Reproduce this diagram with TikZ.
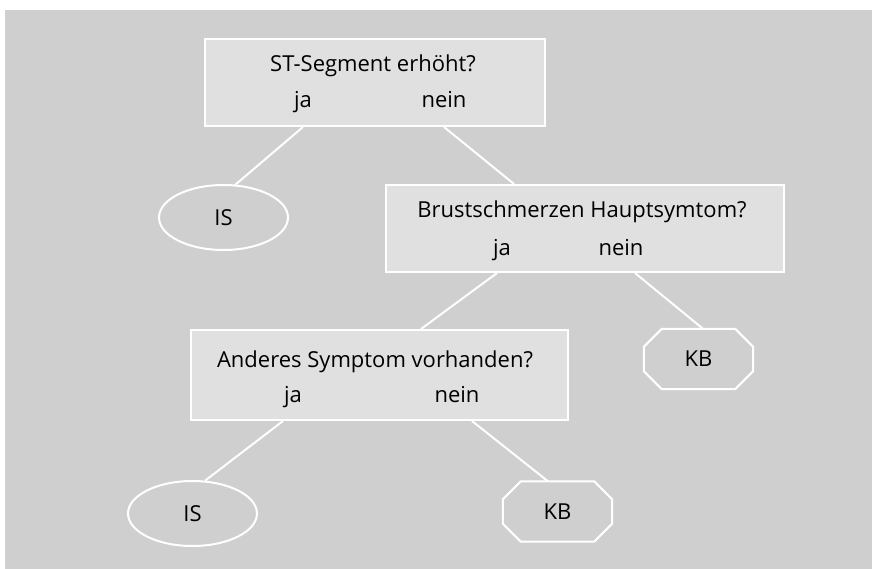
\documentclass[tikz,border=0pt]{standalone}
\usepackage{fontspec}
\setmainfont{Open Sans}
\usepackage{xcolor}
\usetikzlibrary{shapes.geometric,calc}
\definecolor{bggray}{HTML}{CFCFCF}
\definecolor{boxgray}{HTML}{E0E0E0}

\begin{document}
\begin{tikzpicture}[x=1pt,y=-1pt,
    every node/.style={font=\fontsize{22}{26}\selectfont},
    frage/.style={rectangle,draw=white,line width=2pt,fill=boxgray},
    antwort/.style={anchor=base},
    isnode/.style={ellipse,draw=white,line width=2pt,minimum width=129pt,minimum height=65pt},
    kbnode/.style={rectangle,minimum width=109pt,minimum height=60pt},
    ast/.style={draw=white,line width=2pt}]
        \useasboundingbox (0,0) rectangle (872,569);
        % Draw the background
        \fill[white] (0,0) rectangle (872,569);
        \fill[bggray] (5,10) rectangle (872,569);

        % Draw the question boxes
        \node[frage,minimum width=340pt,minimum height=87pt] (q1) at (375,82.5) {};
        \node[frage,minimum width=398pt,minimum height=87pt] (q2) at (585,228.5) {};
        \node[frage,minimum width=377pt,minimum height=90pt] (q3) at (379.5,375) {};

        % Questions and answers
        \node[antwort] (t1) at (373,72) {ST-Segment erhöht?};
        \node[antwort] (ja1) at (303,108) {ja};
        \node[antwort] (nein1) at (444,108) {nein};
        \node[antwort] (t2) at (582,218) {Brustschmerzen Hauptsymtom?};
        \node[antwort] (ja2) at (502,255) {ja};
        \node[antwort] (nein2) at (621,255) {nein};
        \node[antwort] (t3) at (375,367) {Anderes Symptom vorhanden?};
        \node[antwort] (ja3) at (293,402) {ja};
        \node[antwort] (nein3) at (457,402) {nein};

        % Draw the results
        \node[isnode] (is1) at (223.5,217.5) {IS};
        \node[kbnode] (kb1) at (698.5,359) {KB};
        \node[isnode] (is2) at (192.5,513.5) {IS};
        \node[kbnode] (kb2) at (557.5,511.5) {KB};

        % Octagon outlines of the KB nodes
        \foreach \k in {kb1,kb2}
            \draw[ast,line join=miter] ($(\k.north west)+(18,0)$) -- ($(\k.north east)+(-18,0)$)
                -- ($(\k.north east)+(0,18)$) -- ($(\k.south east)+(0,-18)$)
                -- ($(\k.south east)+(-18,0)$) -- ($(\k.south west)+(18,0)$)
                -- ($(\k.south west)+(0,-18)$) -- ($(\k.north west)+(0,18)$) -- cycle;

        % Draw the branches
        \draw[ast] (q1.south -| ja1) -- (is1.70);
        \draw[ast] (q1.south -| nein1) -- ($(q2.north west)+(129,0)$);
        \draw[ast] ($(q2.south -| ja2)+(-5,0)$) -- ($(q3.north west)+(231,0)$);
        \draw[ast] ($(q2.south -| nein2)+(14,0)$) -- ($(kb1.north)+(4.5,0)$);
        \draw[ast] ($(q3.south -| ja3)+(-10,0)$) -- (is2.69);
        \draw[ast] ($(q3.south -| nein3)+(15,0)$) -- ($(kb2.north)+(-9.5,0)$);
    \end{tikzpicture}
\end{document}
